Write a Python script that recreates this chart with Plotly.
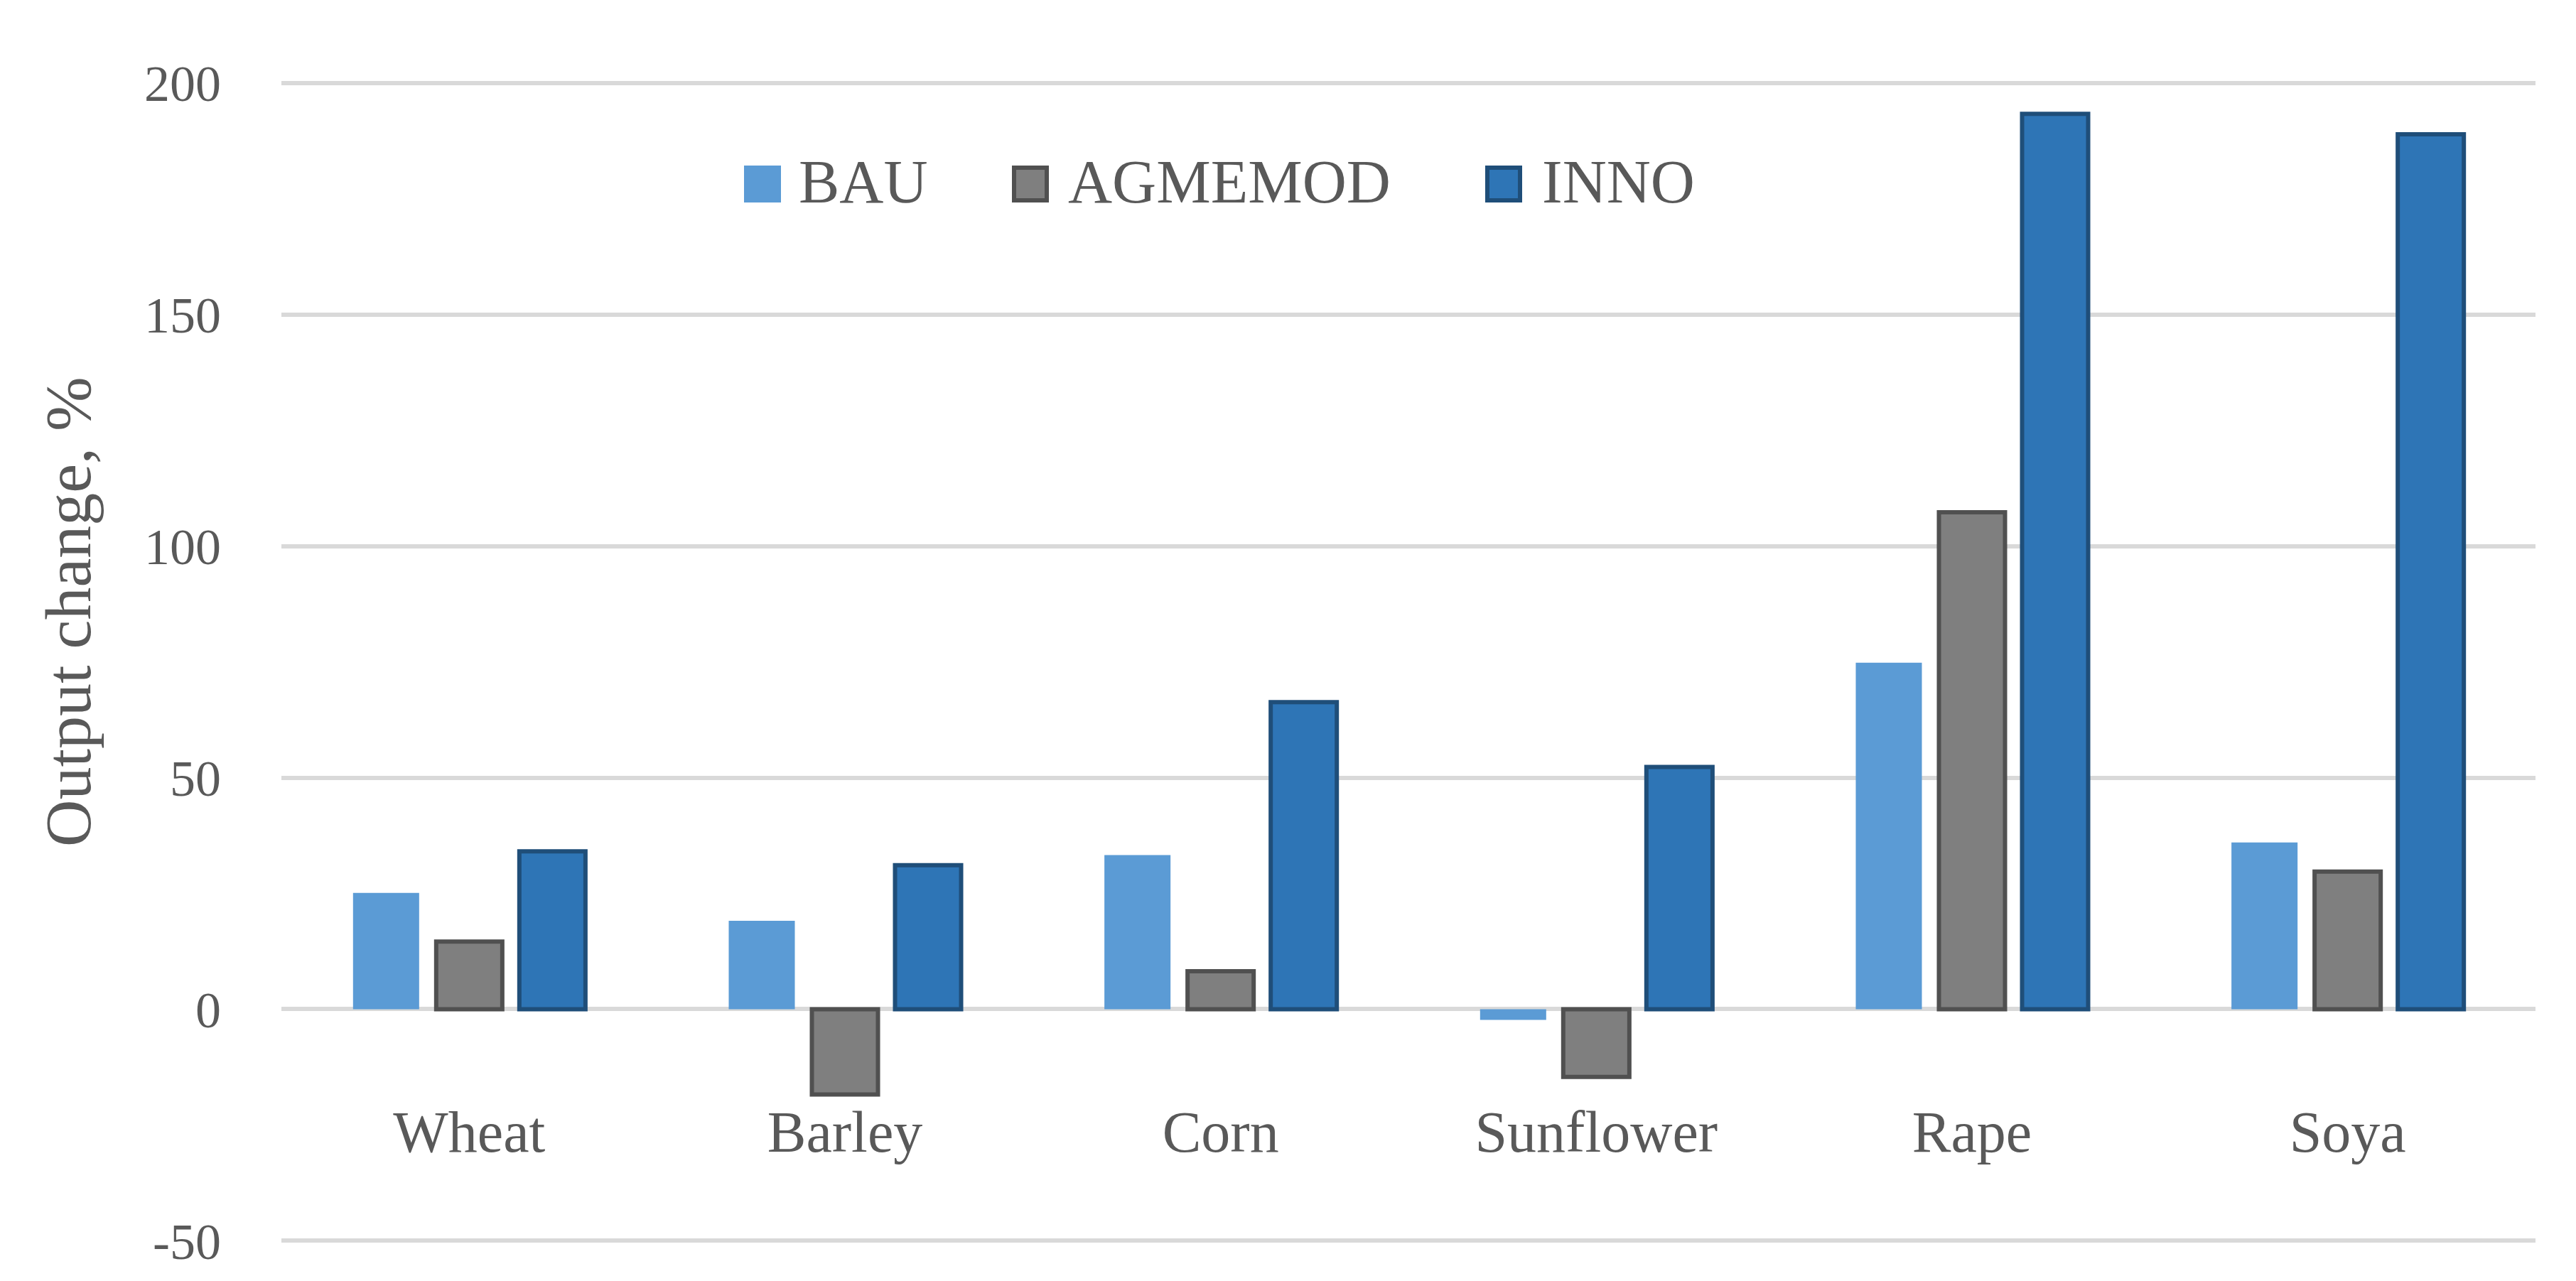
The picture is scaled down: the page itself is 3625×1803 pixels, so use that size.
import plotly.graph_objects as go

# ---- data ----
categories = ["Wheat", "Barley", "Corn", "Sunflower", "Rape", "Soya"]
series_names = ["BAU", "AGMEMOD", "INNO"]
bau = [25.1, 19.1, 33.3, -2.3, 74.8, 36.0]
agmemod = [14.6, -18.4, 8.2, -14.6, 107.3, 29.7]
inno = [34.1, 31.1, 66.3, 52.3, 193.3, 188.9]
y_ticks = [-50, 0, 50, 100, 150, 200]

# ---- style ----
W, H = 3625, 1803
font_family = "Liberation Serif"
text_color = "#595959"
grid_color = "#D9D9D9"
fills = ["#5B9BD5", "#7F7F7F", "#2E75B6"]
outlines = ["#5B9BD5", "#505050", "#1F4E79"]
outline_w = [0, 6, 6]
y_range = [y_ticks[0] - 1, y_ticks[-1] + 1]   # small pad so edge gridlines show

m_left, m_right, m_top, m_bottom = 388, 65, 102, 58
plot_w = W - m_left - m_right
plot_h = H - m_top - m_bottom


def px_to_paper_x(px):
    return (px - m_left) / plot_w


def px_to_paper_y(py):
    return (H - m_bottom - py) / plot_h


fig = go.Figure()
for name, vals, fc, lc, lw in zip(series_names, [bau, agmemod, inno], fills, outlines, outline_w):
    fig.add_trace(go.Bar(name=name, x=categories, y=vals, showlegend=False,
                         marker=dict(color=fc, line=dict(color=lc, width=lw))))

zero_pos = (0 - y_range[0]) / (y_range[1] - y_range[0])

# ---- custom legend (large square swatches like the original) ----
legend_swatch_left = [1039, 1419, 2085]
legend_text_left = [1114, 1493, 2160]
swatch_size = 52
legend_center_y = 251
shapes = []
annotations = []
for name, fc, lc, lw, sx, tx in zip(series_names, fills, outlines, outline_w,
                                    legend_swatch_left, legend_text_left):
    shapes.append(dict(type="rect", xref="paper", yref="paper",
                       x0=px_to_paper_x(sx), x1=px_to_paper_x(sx + swatch_size - (6 if lw else 0)),
                       y0=px_to_paper_y(legend_center_y + swatch_size / 2 - (3 if lw else 0)),
                       y1=px_to_paper_y(legend_center_y - swatch_size / 2 + (3 if lw else 0)),
                       fillcolor=fc, line=dict(color=lc, width=lw)))
    annotations.append(dict(text=name, xref="paper", yref="paper",
                            x=px_to_paper_x(tx), y=px_to_paper_y(legend_center_y - 3),
                            xanchor="left", yanchor="middle", showarrow=False,
                            font=dict(size=86, color=text_color, family=font_family)))

annotations.append(dict(text="Output change, %", textangle=-90, xref="paper", yref="paper",
                        x=px_to_paper_x(88), y=px_to_paper_y(853),
                        xanchor="center", yanchor="middle", showarrow=False,
                        font=dict(size=92, color=text_color, family=font_family)))

fig.update_layout(
    width=W, height=H,
    paper_bgcolor="white", plot_bgcolor="white",
    margin=dict(l=m_left, r=m_right, t=m_top, b=m_bottom),
    barmode="group", bargap=0.336, bargroupgap=0.205,
    font=dict(family=font_family, color=text_color, size=80),
    showlegend=False,
    xaxis=dict(anchor="free", position=zero_pos, showline=False, ticks="",
               tickfont=dict(size=82, color=text_color, family=font_family),
               ticklabelstandoff=118, showgrid=False, zeroline=False),
    yaxis=dict(range=y_range, tickvals=y_ticks, ticktext=[str(v) for v in y_ticks],
               showgrid=True, gridcolor=grid_color,
               gridwidth=6, zeroline=True, zerolinecolor=grid_color, zerolinewidth=6,
               showline=False, ticks="", ticklabelstandoff=84,
               tickfont=dict(size=72, color=text_color, family=font_family)),
    shapes=shapes,
    annotations=annotations,
)

fig.write_html("out.html")
